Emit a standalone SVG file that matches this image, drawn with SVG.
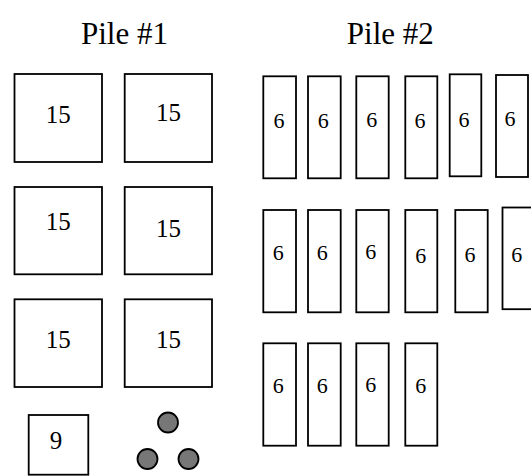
<svg xmlns="http://www.w3.org/2000/svg" width="531" height="476" viewBox="0 0 531 476">
<style>
.b{fill:#fff;stroke:#000;stroke-width:1.8}
.c{fill:#777;stroke:#000;stroke-width:1.8}
text{font-family:'Liberation Serif','DejaVu Serif',serif;text-anchor:middle;fill:#000}
.t{font-size:31px}
.n{font-size:25px}
.s{font-size:22px}
</style>
<rect width="531" height="476" fill="#fff"/>
<g id="titles">
<text class="t" x="124.5" y="44.3">Pile #1</text>
<text class="t" x="390.3" y="44">Pile #2</text>
</g>
<g id="pile1">
<g id="p1a"><rect class="b" x="14.5" y="74" width="87.5" height="88"/><text class="n" x="58.3" y="122.7">15</text></g>
<g id="p1b"><rect class="b" x="124.7" y="74" width="87.3" height="88"/><text class="n" x="168.5" y="120.7">15</text></g>
<g id="p1c"><rect class="b" x="14.5" y="187" width="87.5" height="87.3"/><text class="n" x="58.3" y="230">15</text></g>
<g id="p1d"><rect class="b" x="124.7" y="187" width="87.3" height="87.3"/><text class="n" x="168.5" y="237">15</text></g>
<g id="p1e"><rect class="b" x="14.5" y="299.3" width="87.5" height="87.7"/><text class="n" x="58.3" y="347.7">15</text></g>
<g id="p1f"><rect class="b" x="124.7" y="299.3" width="87.3" height="87.7"/><text class="n" x="168.5" y="347.7">15</text></g>
<g id="p1g"><rect class="b" x="28.7" y="415" width="59.6" height="59.7"/><text class="n" x="56" y="449.3">9</text></g>
<g id="p1h"><circle class="c" cx="168" cy="422.5" r="10"/><circle class="c" cx="147.5" cy="459" r="10"/><circle class="c" cx="188.5" cy="459" r="10"/></g>
</g>
<g id="pile2">
<g id="r1a"><rect class="b" x="263.3" y="76.3" width="32.7" height="102"/><text class="s" x="279" y="128">6</text></g>
<g id="r1b"><rect class="b" x="308" y="76.3" width="32.7" height="102"/><text class="s" x="323.3" y="128">6</text></g>
<g id="r1c"><rect class="b" x="356.3" y="76.3" width="32.4" height="102"/><text class="s" x="371.7" y="127">6</text></g>
<g id="r1d"><rect class="b" x="405.3" y="76.3" width="32" height="102"/><text class="s" x="420" y="128">6</text></g>
<g id="r1e"><rect class="b" x="449.7" y="74.3" width="31.6" height="102"/><text class="s" x="464" y="127">6</text></g>
<g id="r1f"><rect class="b" x="496" y="75" width="32" height="102"/><text class="s" x="510" y="126">6</text></g>
<g id="r2a"><rect class="b" x="263.3" y="210" width="32.7" height="102.3"/><text class="s" x="278.3" y="260.3">6</text></g>
<g id="r2b"><rect class="b" x="308" y="210" width="32.7" height="102.3"/><text class="s" x="322.3" y="260">6</text></g>
<g id="r2c"><rect class="b" x="356.3" y="210" width="32.4" height="102.3"/><text class="s" x="370.7" y="259">6</text></g>
<g id="r2d"><rect class="b" x="405.3" y="210" width="32" height="102.3"/><text class="s" x="420.7" y="263.3">6</text></g>
<g id="r2e"><rect class="b" x="455.3" y="210" width="32.4" height="102.3"/><text class="s" x="470" y="262">6</text></g>
<g id="r2f"><rect class="b" x="502.5" y="207.5" width="32" height="101.7"/><text class="s" x="516.7" y="262">6</text></g>
<g id="r3a"><rect class="b" x="263.3" y="343.3" width="32.7" height="102.4"/><text class="s" x="278.3" y="393.3">6</text></g>
<g id="r3b"><rect class="b" x="308" y="343.3" width="32.7" height="102.4"/><text class="s" x="322.3" y="393">6</text></g>
<g id="r3c"><rect class="b" x="356.3" y="343.3" width="32.4" height="102.4"/><text class="s" x="370.7" y="391.7">6</text></g>
<g id="r3d"><rect class="b" x="405.3" y="343.3" width="32" height="102.4"/><text class="s" x="420.7" y="393">6</text></g>
</g>
<g id="connectors"/>
</svg>
